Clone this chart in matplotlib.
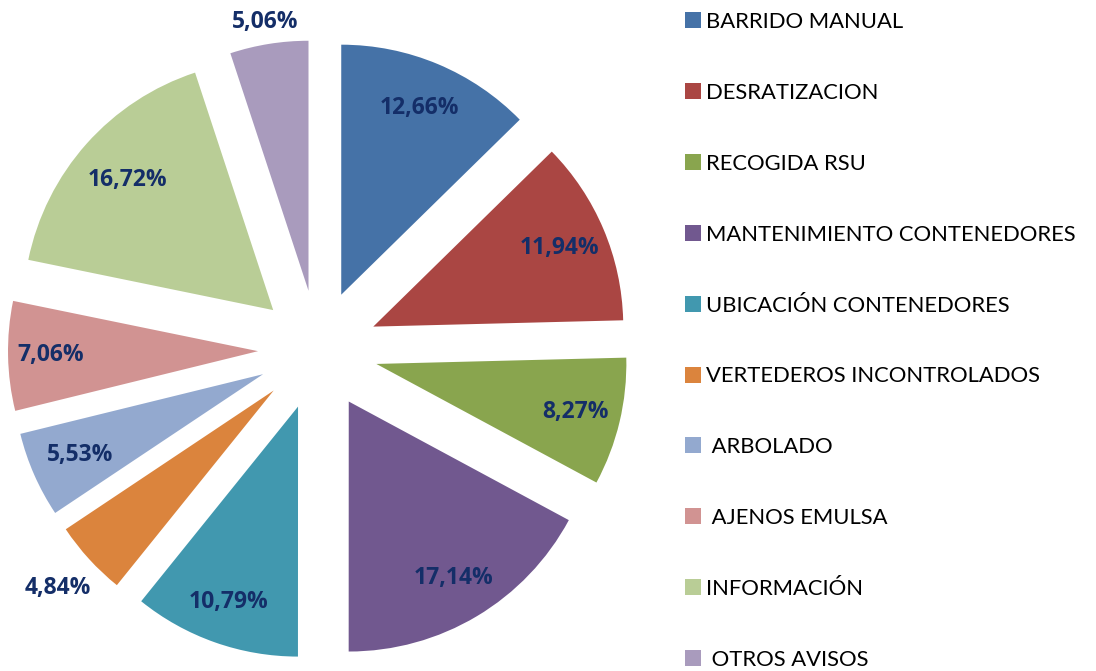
import numpy as np
import matplotlib.pyplot as plt
from matplotlib.patches import Rectangle

# categorias y porcentajes
categorias = ['BARRIDO MANUAL', 'DESRATIZACION', 'RECOGIDA RSU', 'MANTENIMIENTO CONTENEDORES',
              'UBICACIÓN CONTENEDORES', 'VERTEDEROS INCONTROLADOS', ' ARBOLADO',
              ' AJENOS EMULSA', 'INFORMACIÓN', ' OTROS AVISOS']
porcentajes = [12.66, 11.94, 8.27, 17.14, 10.79, 4.84, 5.53, 7.06, 16.72, 5.06]
colores = ['#4572A7', '#AA4643', '#89A54E', '#71588F', '#4198AF',
           '#DB843D', '#93A9CF', '#D19392', '#B9CD96', '#A99BBD']
# distancia de la etiqueta (radio) para cada porción
dist_etiqueta = [0.81, 0.81, 0.82, 0.82, 0.83, 1.17, 0.80, 0.83, 0.78, 1.09]

plt.rcParams['font.family'] = ['Lato', 'DejaVu Sans']

W, H = 1096, 671
fig = plt.figure(figsize=(W / 100, H / 100), dpi=100)
ax = fig.add_axes([0, 0, 636 / W, 642 / H])

wedges, _ = ax.pie(porcentajes, colors=colores, startangle=90, counterclock=False,
                   explode=[0.24] * len(porcentajes), radius=1.0,
                   wedgeprops=dict(linewidth=0))

for w, p, d in zip(wedges, porcentajes, dist_etiqueta):
    ang = np.deg2rad((w.theta1 + w.theta2) / 2)
    cx, cy = w.center
    ax.text(cx + d * np.cos(ang), cy + d * np.sin(ang), f'{p:.2f}%'.replace('.', ','),
            ha='center', va='center', fontsize=16.5, fontweight='bold', color='#142E68',
            family=['Open Sans', 'DejaVu Sans'])

ax.set_aspect('auto')
ax.set_xlim(-1.272, 1.272)
ax.set_ylim(-1.284, 1.284)
ax.axis('off')

# leyenda dibujada a mano (cuadrado + texto)
for i, (nombre, c) in enumerate(zip(categorias, colores)):
    yc = 1 - (20 + i * 70.9) / H
    fig.patches.append(Rectangle((685 / W, yc - 8 / H), 16 / W, 16 / H, facecolor=c,
                                 edgecolor='none', transform=fig.transFigure))
    fig.text(706 / W, yc, nombre, ha='left', va='center_baseline', fontsize=15.8, color='black')

fig.savefig('out.png', dpi=100)
